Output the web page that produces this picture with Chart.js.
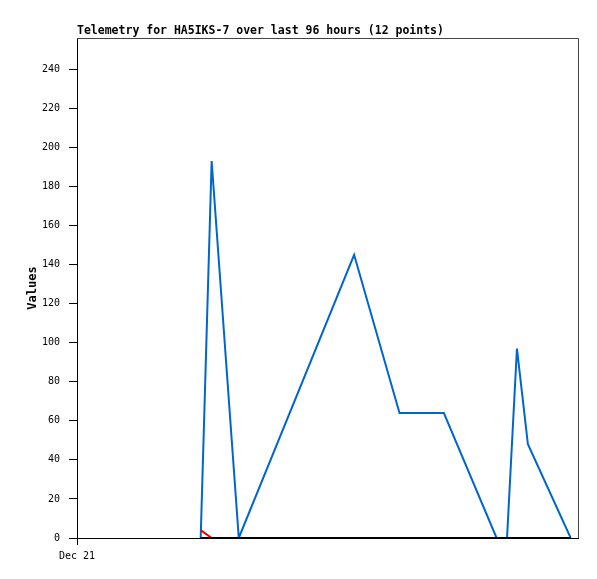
<!DOCTYPE html>
<html>
<head>
<meta charset="utf-8">
<script src="https://cdn.jsdelivr.net/npm/chart.js@4/dist/chart.umd.min.js"></script>
<style>
  html, body { margin: 0; padding: 0; background: #fff; }
  #wrap { width: 597px; height: 579px; }
</style>
</head>
<body>
<div id="wrap"><canvas id="telemetry"></canvas></div>
<script>
// hours since start of window (Dec 21, 00:00)
const hours = [23.7, 25.8, 31.0, 53.1, 61.8, 70.3, 80.4, 82.4, 84.3, 86.4, 94.6];
const blueValues = [0, 193, 0, 145, 64, 64, 0, 0, 97, 48, 0];
const redValues = [4, 0, 0, 0, 0, 0, 0, 0, 0, 0, 0];
const blackValues = [0, 0, 0, 0, 0, 0, 0, 0, 0, 0, 0];
const xTickLabel = 'Dec 21';
const titleText = 'Telemetry for HA5IKS-7 over last 96 hours (12 points)';

function pts(vals) {
  return vals.map((v, i) => ({ x: hours[i], y: v }));
}

const mono = "'DejaVu Sans Mono', 'Liberation Mono', monospace";

// frame + title drawn by hand (title sits at chart area's left edge)
const framePlugin = {
  id: 'frame',
  beforeDatasetsDraw(chart) {
    const { ctx, chartArea: a } = chart;
    ctx.save();
    ctx.strokeStyle = '#444';
    ctx.lineWidth = 1;
    ctx.beginPath();
    ctx.moveTo(a.left, a.top + 0.5);
    ctx.lineTo(a.right + 0.5, a.top + 0.5);
    ctx.lineTo(a.right + 0.5, a.bottom);
    ctx.stroke();
    ctx.restore();
  },
  afterDraw(chart) {
    const { ctx, chartArea: a } = chart;
    ctx.save();
    ctx.fillStyle = '#000';
    ctx.font = 'bold 11.5px ' + mono;
    ctx.textBaseline = 'middle';
    ctx.textAlign = 'left';
    ctx.fillText(titleText, a.left, 31);
    ctx.restore();
  }
};

new Chart(document.getElementById('telemetry'), {
  type: 'line',
  data: {
    datasets: [
      { label: 'black', data: pts(blackValues), borderColor: '#000', borderWidth: 2, order: 1 },
      { label: 'red', data: pts(redValues), borderColor: '#ee0000', borderWidth: 2, order: 2 },
      { label: 'blue', data: pts(blueValues), borderColor: '#0066cc', borderWidth: 2, order: 3 }
    ]
  },
  options: {
    responsive: true,
    maintainAspectRatio: false,
    animation: false,
    elements: { point: { radius: 0 }, line: { tension: 0 } },
    layout: { padding: { left: 0, right: 19, top: 38, bottom: 0 } },
    plugins: { legend: { display: false }, tooltip: { enabled: false } },
    scales: {
      x: {
        type: 'linear',
        min: 0,
        max: 96,
        afterBuildTicks(scale) { scale.ticks = [{ value: 0 }]; },
        afterFit(scale) { scale.height = 41; },
        grid: { drawOnChartArea: false, color: '#000', tickLength: 7 },
        border: { color: '#000' },
        ticks: {
          color: '#000',
          font: { family: mono, size: 10 },
          padding: 5,
          maxRotation: 0,
          callback: () => xTickLabel
        }
      },
      y: {
        min: 0,
        max: 256,
        afterBuildTicks(scale) {
          const t = [];
          for (let v = 0; v <= 240; v += 20) t.push({ value: v });
          scale.ticks = t;
        },
        afterFit(scale) { scale.width = 77; },
        grid: { drawOnChartArea: false, color: '#000', tickLength: 8 },
        border: { color: '#000' },
        ticks: {
          color: '#000',
          font: { family: mono, size: 10 },
          padding: 9
        },
        title: {
          display: true,
          text: 'Values',
          color: '#000',
          font: { family: mono, size: 12, weight: 'bold' },
          padding: { top: 26, bottom: 0 }
        }
      }
    }
  },
  plugins: [framePlugin]
});
</script>
</body>
</html>
